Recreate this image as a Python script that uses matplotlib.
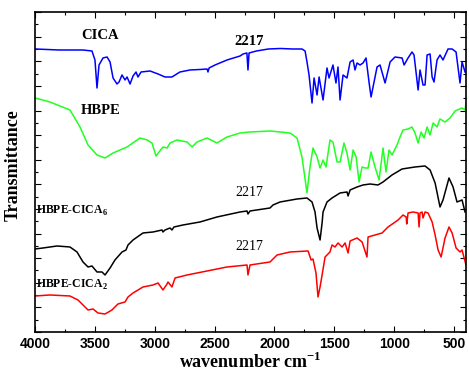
import matplotlib
matplotlib.use("Agg")
import matplotlib.pyplot as plt
from matplotlib.ticker import MultipleLocator

# FTIR spectra, values (arbitrary transmittance units)
cica_wn = [4000, 3800, 3600, 3524, 3499, 3482, 3465, 3432, 3398, 3373, 3348, 3315,
           3298, 3273, 3248, 3231, 3206, 3181, 3156, 3140, 3114, 3039, 2972, 2914,
           2856, 2789, 2705, 2622, 2563, 2555, 2546, 2496, 2396, 2287, 2262, 2230,
           2221, 2212, 2150, 2050, 1950, 1850, 1770, 1744, 1728, 1711, 1686, 1669,
           1644, 1627, 1594, 1561, 1544, 1511, 1486, 1469, 1452, 1427, 1394, 1368,
           1343, 1327, 1310, 1285, 1260, 1235, 1210, 1193, 1143, 1118, 1076, 1034,
           993, 934, 917, 884, 851, 834, 800, 784, 759, 742, 725, 700, 683, 667,
           642, 617, 592, 550, 516, 483, 450, 433, 408]
cica_t = [283, 282, 282, 281, 272, 244, 267, 274, 275, 270, 254, 248,
          250, 257, 252, 255, 248, 256, 260, 255, 260, 261, 258, 255,
          255, 260, 262, 262.5, 263, 260, 264, 267, 272, 276, 278, 279,
          262, 279, 281, 283, 283.5, 283, 283, 281, 270, 257, 229, 254,
          237, 255, 232, 264, 254, 267, 249, 265, 232, 257, 254, 270,
          272, 262, 269, 267, 269, 274, 250, 235, 265, 267, 249, 270,
          275, 274, 267, 274, 280, 277, 242, 262, 247, 247, 277, 278, 255, 250,
          272, 277, 272, 283, 283, 280, 249, 270, 260]

hbpe_wn = [4000, 3875, 3708, 3624, 3557, 3482, 3415, 3348, 3231, 3123, 3064, 3023,
           2989, 2964, 2931, 2897, 2872, 2814, 2730, 2688, 2647, 2563, 2480, 2396,
           2287, 2204, 2037, 1870, 1811, 1770, 1728, 1703, 1678, 1644, 1619, 1594,
           1569, 1536, 1511, 1477, 1452, 1419, 1394, 1368, 1343, 1318, 1293, 1268,
           1243, 1218, 1193, 1160, 1126, 1093, 1068, 1043, 1018, 976, 951, 926,
           884, 851, 826, 800, 775, 750, 725, 700, 675, 642, 617, 575, 533, 491,
           433, 408, 400]
hbpe_t = [234, 230, 222, 205, 187, 177, 174, 179, 185, 194, 192, 189,
          176, 180, 185, 184, 189, 192, 190, 185, 190, 194, 189, 195,
          199, 200, 201, 199, 194, 175, 139, 165, 184, 175, 164, 172,
          165, 192, 190, 170, 170, 189, 179, 162, 182, 175, 150, 165,
          164, 164, 180, 165, 152, 184, 160, 182, 177, 187, 195, 202,
          203, 205, 199, 189, 200, 194, 205, 197, 209, 205, 213, 210, 214, 221,
          224, 222, 229]

cica6_wn = [4000, 3933, 3816, 3708, 3649, 3599, 3557, 3524, 3482, 3440, 3415, 3373,
            3332, 3273, 3240, 3223, 3181, 3098, 3014, 2939, 2931, 2914, 2872, 2856,
            2839, 2764, 2622, 2480, 2287, 2229, 2221, 2204, 2037, 2012, 1953, 1811,
            1728, 1686, 1661, 1644, 1619, 1602, 1594, 1561, 1519, 1452, 1394, 1385,
            1368, 1310, 1260, 1201, 1135, 1093, 1018, 934, 826, 742, 700, 658, 617,
            592, 542, 508, 475, 433, 408]
cica6_t = [83, 84, 86, 85, 80, 70, 65, 66, 60, 60, 57, 64,
           72, 80, 82, 87, 92, 99, 100, 102, 100, 102, 104, 102,
           105, 107, 110, 115, 120, 121, 118, 121, 124, 127, 130, 133,
           134, 130, 120, 104, 92, 109, 120, 130, 134, 139, 140, 136,
           142, 145, 147, 148, 147, 150, 157, 163, 165, 166, 162, 149, 125,
           132, 154, 145, 130, 132, 120]

cica2_wn = [4000, 3875, 3708, 3641, 3582, 3557, 3515, 3474, 3415, 3357, 3307, 3248,
            3223, 3181, 3098, 3014, 2972, 2931, 2897, 2889, 2856, 2830, 2730, 2563,
            2396, 2229, 2221, 2204, 2037, 1978, 1870, 1719, 1694, 1678, 1653, 1636,
            1619, 1602, 1577, 1536, 1519, 1494, 1469, 1435, 1410, 1385, 1368, 1310,
            1268, 1227, 1218, 1160, 1101, 1051, 967, 926, 900, 895, 884, 842, 800,
            792, 784, 767, 759, 742, 717, 683, 658, 633, 608, 575, 542, 516, 483,
            450, 433, 400]
cica2_t = [36, 37, 36, 32, 25, 22, 23, 19, 18, 22, 28, 30,
           35, 39, 45, 47, 49, 42, 48, 50, 45, 54, 57, 61,
           65, 67, 57, 67, 70, 77, 80, 81, 72, 73, 59, 35,
           45, 57, 75, 80, 87, 85, 89, 85, 89, 79, 91, 94,
           90, 75, 95, 97, 99, 105, 112, 117, 115, 108, 119, 120, 119,
           105, 119, 120, 114, 120, 119, 110, 97, 82, 75, 94, 105, 99, 84,
           80, 82, 67]

plt.rcParams["mathtext.fontset"] = "custom"
plt.rcParams["mathtext.bf"] = "Liberation Serif:bold"
plt.rcParams["mathtext.rm"] = "Liberation Serif"

fig = plt.figure(figsize=(4.69, 3.77), dpi=100)
ax = fig.add_axes([0.0746, 0.1194, 0.919, 0.8488])

ax.plot(cica_wn, cica_t, color="#0000ff", lw=1.1)
ax.plot(hbpe_wn, hbpe_t, color="#22ff22", lw=1.1)
ax.plot(cica6_wn, cica6_t, color="black", lw=1.1)
ax.plot(cica2_wn, cica2_t, color="#ff0000", lw=1.1)

ax.set_xlim(4000, 400)
ax.set_ylim(0, 320)

serif = "Liberation Serif"
ax.text(3457, 296, "CICA", family=serif, weight="bold", fontsize=10.5, ha="center", va="center")
ax.text(2212, 290, "2217", family=serif, weight="bold", fontsize=10.5, ha="center", va="center")
ax.text(3449, 221, "HBPE", family=serif, weight="bold", fontsize=10.5, ha="center", va="center")
ax.text(3992, 121, r"HBPE-CICA$_\mathbf{6}$", family=serif, weight="bold", fontsize=8.5, ha="left", va="center")
ax.text(2212, 139, "2217", family=serif, fontsize=10, ha="center", va="center")
ax.text(3992, 47, r"HBPE-CICA$_\mathbf{2}$", family=serif, weight="bold", fontsize=8.5, ha="left", va="center")
ax.text(2212, 85, "2217", family=serif, fontsize=10, ha="center", va="center")

ax.set_xlabel(r"wavenumber cm$^{\mathbf{-1}}$", family=serif, weight="bold", fontsize=13, labelpad=1)
ax.set_ylabel("Transmittance", family=serif, weight="bold", fontsize=13)
ax.yaxis.set_label_coords(-0.03, 0.52)

ax.xaxis.set_major_locator(MultipleLocator(500))
ax.xaxis.set_minor_locator(MultipleLocator(250))
ax.yaxis.set_major_locator(MultipleLocator(24.6))
ax.yaxis.set_minor_locator(MultipleLocator(12.3))
ax.tick_params(which="both", direction="in", top=True, right=True, width=0.8)
ax.tick_params(which="major", length=4)
ax.tick_params(which="minor", length=2.5)
ax.tick_params(axis="y", labelleft=False)
for lab in ax.get_xticklabels():
    lab.set_family("Liberation Sans")
    lab.set_weight("bold")
    lab.set_fontsize(10)
for s in ax.spines.values():
    s.set_linewidth(1.2)

fig.savefig("out.png", dpi=100)
